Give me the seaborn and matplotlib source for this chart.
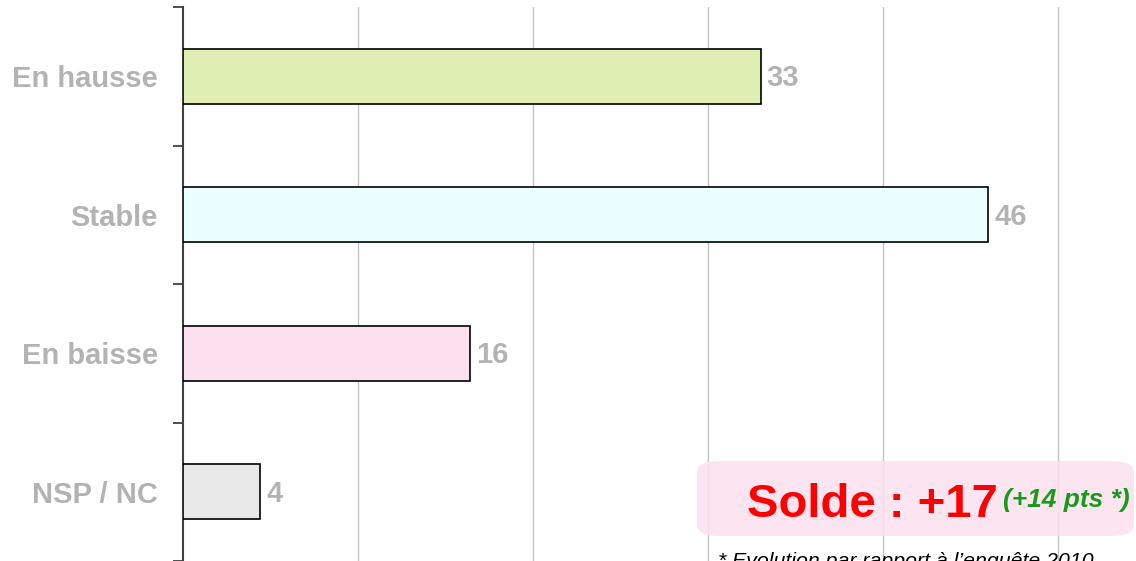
import matplotlib
matplotlib.use("Agg")
import matplotlib.pyplot as plt
import seaborn as sns
import pandas as pd
from matplotlib.patches import FancyBboxPatch

categories = ["En hausse", "Stable", "En baisse", "NSP / NC"]
values = [33.0, 46.0, 16.4, 4.4]
value_labels = ["33", "46", "16", "4"]
bar_colors = ["#dfefb3", "#eaffff", "#fde0ef", "#e8e8e8"]
solde_text = "Solde : +17"
evol_text = "(+14 pts *)"
footnote = "* Evolution par rapport à l\u2019enquête 2010"

sns.set_style("white")
plt.rcParams["font.family"] = ["Liberation Sans", "DejaVu Sans"]

W, H = 1136, 561
fig = plt.figure(figsize=(W / 100, H / 100), dpi=100)
ax = fig.add_axes([183 / W, 0, 1 - 183 / W, 1 - 7 / H])

df = pd.DataFrame({"cat": categories, "val": values})
sns.barplot(data=df, x="val", y="cat", hue="cat", palette=bar_colors,
            legend=False, width=0.40, edgecolor="black", linewidth=1.2,
            saturation=1, ax=ax, zorder=3)

ax.set_xlim(0, (W - 183) / 17.5)
ax.set_ylim(3.5, -0.5)
ax.set_xticks([10, 20, 30, 40, 50])
ax.xaxis.grid(True, color="#c4c4c4", linewidth=1)
ax.set_axisbelow(True)
ax.tick_params(axis="x", length=0, labelbottom=False)
ax.set_xlabel("")
ax.set_ylabel("")

# category labels, ticks at boundaries
ax.set_yticks(range(len(categories)))
ax.set_yticklabels(categories, fontsize=21, fontweight="bold", color="#b3b3b3")
ax.tick_params(axis="y", which="major", left=False, length=0, pad=18)
ax.set_yticks([-0.5, 0.5, 1.5, 2.5, 3.5], minor=True)
ax.tick_params(axis="y", which="minor", left=True, length=7.5, width=1.3,
               color="#404040")

for s in ["top", "right", "bottom"]:
    ax.spines[s].set_visible(False)
ax.spines["left"].set_color("#404040")
ax.spines["left"].set_linewidth(1.5)

for i, (v, lab) in enumerate(zip(values, value_labels)):
    ax.text(v + 0.35, i + 0.015, lab, va="center", ha="left", fontsize=21,
            fontweight="bold", color="#b3b3b3", zorder=4)

# solde box
box = FancyBboxPatch((697 / W, 1 - 536 / H), (1134 - 697) / W, (536 - 461) / H,
                     boxstyle="round,pad=0,rounding_size=0.02",
                     transform=fig.transFigure, facecolor="#fde0ef",
                     edgecolor="none", alpha=0.85, zorder=5)
fig.patches.append(box)
fig.text(747 / W, 1 - 517 / H, solde_text, fontsize=34, fontweight="bold",
         color="#ff0000", ha="left", va="baseline", zorder=6)
fig.text(1003 / W, 1 - 507 / H, evol_text, fontsize=19, fontweight="bold",
         style="italic", color="#1a9a1a", ha="left", va="baseline", zorder=6)
fig.text(718 / W, 1 - 567 / H, footnote, fontsize=15.3, style="italic",
         color="black", ha="left", va="baseline", zorder=6)

fig.savefig("out.png", dpi=100)
